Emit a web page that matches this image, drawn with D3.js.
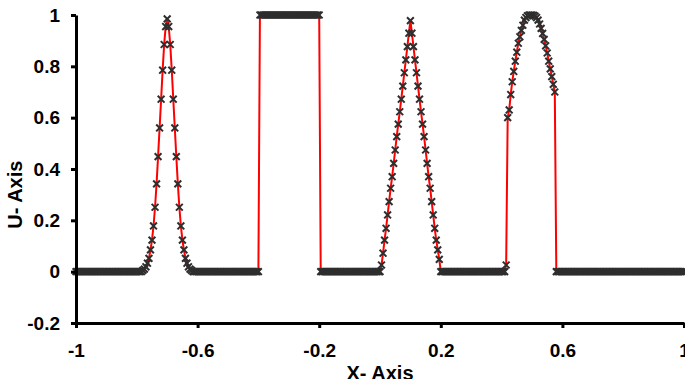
<!DOCTYPE html>
<html lang="en">
<head>
  <meta charset="UTF-8">
  <title>U vs X</title>
  <script src="https://cdn.jsdelivr.net/npm/d3@7"></script>
  <style>
    body { margin: 0; background: #fff; }
    text { font-family: 'Liberation Sans', Arial, sans-serif; font-weight: bold; }
    .axis path, .axis line { stroke: #000; stroke-width: 3; }
    .axis text { font-size: 19px; fill: #000; }
  </style>
</head>
<body>
  <div id="plot"></div>
  <script>
    // grid: x from -1 to 1, step 0.005
    const xStart = -1, xStep = 0.005;

    // u at every grid point
    const uValues = [
      0, 0, 0, 0, 0, 0, 0, 0, 0, 0, 0, 0, 0, 0, 0, 0, 0, 0, 0, 0,
      0, 0, 0, 0, 0, 0, 0, 0, 0, 0, 0, 0, 0, 0, 0, 0, 0, 0, 0, 0,
      0, 0, 0, 0, 0.005, 0.01, 0.019, 0.033, 0.052, 0.085, 0.123, 0.178, 0.251, 0.342, 0.448, 0.56, 0.672, 0.785, 0.885, 0.955,
      0.985, 0.955, 0.885, 0.785, 0.672, 0.56, 0.448, 0.342, 0.251, 0.178, 0.123, 0.085, 0.052, 0.033, 0.019, 0.01, 0.005, 0, 0, 0,
      0, 0, 0, 0, 0, 0, 0, 0, 0, 0, 0, 0, 0, 0, 0, 0, 0, 0, 0, 0,
      0, 0, 0, 0, 0, 0, 0, 0, 0, 0, 0, 0, 0, 0, 0, 0, 0, 0, 0, 0,
      0, 1, 1, 1, 1, 1, 1, 1, 1, 1, 1, 1, 1, 1, 1, 1, 1, 1, 1, 1,
      1, 1, 1, 1, 1, 1, 1, 1, 1, 1, 1, 1, 1, 1, 1, 1, 1, 1, 1, 1,
      1, 0, 0, 0, 0, 0, 0, 0, 0, 0, 0, 0, 0, 0, 0, 0, 0, 0, 0, 0,
      0, 0, 0, 0, 0, 0, 0, 0, 0, 0, 0, 0, 0, 0, 0, 0, 0, 0, 0, 0,
      0, 0.026, 0.072, 0.123, 0.169, 0.221, 0.273, 0.325, 0.37, 0.422, 0.474, 0.526, 0.575, 0.623, 0.672, 0.723, 0.775, 0.825, 0.877, 0.929,
      0.978, 0.929, 0.877, 0.825, 0.775, 0.723, 0.672, 0.623, 0.575, 0.526, 0.474, 0.422, 0.37, 0.325, 0.273, 0.221, 0.169, 0.123, 0.085, 0.048,
      0, 0, 0, 0, 0, 0, 0, 0, 0, 0, 0, 0, 0, 0, 0, 0, 0, 0, 0, 0,
      0, 0, 0, 0, 0, 0, 0, 0, 0, 0, 0, 0, 0, 0, 0, 0, 0, 0, 0, 0,
      0, 0, 0, 0.026, 0.6, 0.63, 0.69, 0.74, 0.78, 0.82, 0.855, 0.89, 0.915, 0.94, 0.96, 0.98, 0.99, 0.997, 1, 1,
      1, 0.999, 0.996, 0.99, 0.98, 0.965, 0.948, 0.928, 0.905, 0.88, 0.852, 0.82, 0.79, 0.76, 0.73, 0.7, 0, 0, 0, 0,
      0, 0, 0, 0, 0, 0, 0, 0, 0, 0, 0, 0, 0, 0, 0, 0, 0, 0, 0, 0,
      0, 0, 0, 0, 0, 0, 0, 0, 0, 0, 0, 0, 0, 0, 0, 0, 0, 0, 0, 0,
      0, 0, 0, 0, 0, 0, 0, 0, 0, 0, 0, 0, 0, 0, 0, 0, 0, 0, 0, 0,
      0, 0, 0, 0, 0, 0, 0, 0, 0, 0, 0, 0, 0, 0, 0, 0, 0, 0, 0, 0,
      0
    ];

    const xTicks = [-1, -0.6, -0.2, 0.2, 0.6, 1];
    const yTicks = [-0.2, 0, 0.2, 0.4, 0.6, 0.8, 1];

    const data = uValues.map((u, i) => ({ x: xStart + i * xStep, u: u }));

    const width = 685, height = 379;
    const margin = { top: 15, right: 1, bottom: 56, left: 76 };

    const svg = d3.select('#plot').append('svg')
      .attr('width', width)
      .attr('height', height);

    const xScale = d3.scaleLinear()
      .domain([-1, 1])
      .range([margin.left, width - margin.right]);
    const yScale = d3.scaleLinear()
      .domain([-0.2, 1])
      .range([height - margin.bottom, margin.top]);

    // exact solution line (red)
    const line = d3.line()
      .x(d => xScale(d.x))
      .y(d => yScale(d.u));

    svg.append('path')
      .datum(data)
      .attr('d', line)
      .attr('fill', 'none')
      .attr('stroke', '#ff0000')
      .attr('stroke-width', 2);

    // numerical solution markers (x shaped)
    const s = 3.4;
    svg.append('g')
      .selectAll('path')
      .data(data)
      .enter().append('path')
      .attr('transform', d => `translate(${xScale(d.x)},${yScale(d.u)})`)
      .attr('d', `M${-s},${-s}L${s},${s}M${-s},${s}L${s},${-s}`)
      .attr('stroke', '#2e2e2e')
      .attr('stroke-width', 2)
      .attr('fill', 'none');

    // axes
    const xAxis = d3.axisBottom(xScale)
      .tickValues(xTicks)
      .tickFormat(d => String(d))
      .tickSizeInner(5).tickSizeOuter(0)
      .tickPadding(16);
    const yAxis = d3.axisLeft(yScale)
      .tickValues(yTicks)
      .tickFormat(d => String(d))
      .tickSizeInner(5).tickSizeOuter(0)
      .tickPadding(11);

    svg.append('g')
      .attr('class', 'x axis')
      .attr('transform', `translate(0,${yScale(-0.2)})`)
      .call(xAxis);

    svg.append('g')
      .attr('class', 'y axis')
      .attr('transform', `translate(${xScale(-1)},0)`)
      .call(yAxis);

    svg.selectAll('.axis text').attr('font-family', null).attr('font-size', null);

    // axis titles
    svg.append('text')
      .attr('x', xScale(0))
      .attr('y', 380)
      .attr('text-anchor', 'middle')
      .style('font-size', '20px')
      .text('X- Axis');

    svg.append('text')
      .attr('transform', `translate(22,${yScale(0.3)}) rotate(-90)`)
      .attr('text-anchor', 'middle')
      .style('font-size', '20px')
      .text('U- Axis');
  </script>
</body>
</html>
